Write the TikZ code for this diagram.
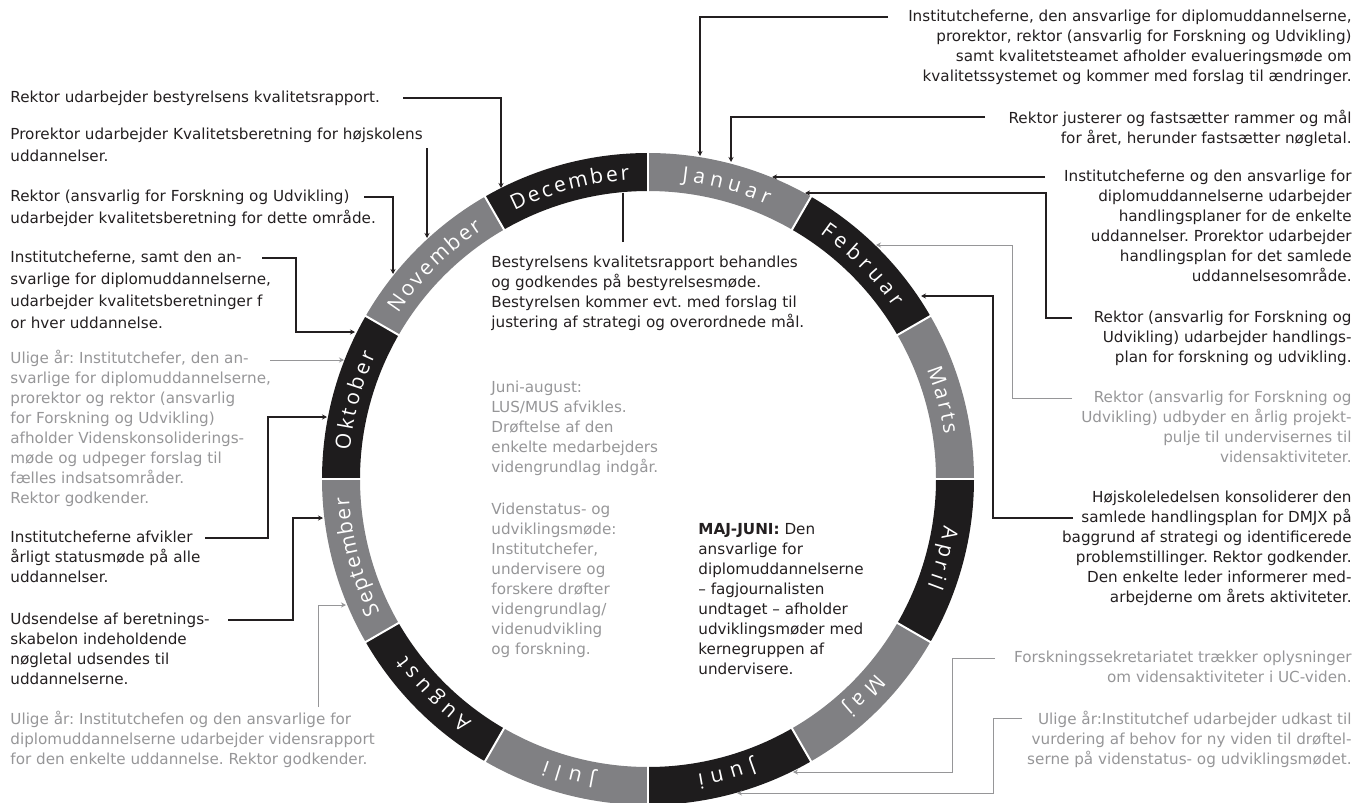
\documentclass[tikz,border=0pt]{standalone}
\usepackage{fontspec}
\setmainfont{DejaVu Sans}
\newfontfamily\monthfont{Open Sans}
\usetikzlibrary{arrows.meta,decorations.text,positioning,calc}
\definecolor{ringgray}{RGB}{128,128,131}
\definecolor{ringblack}{RGB}{30,28,29}
\definecolor{inkblack}{RGB}{35,31,32}
\definecolor{inkgray}{RGB}{150,150,152}
\newcommand\mfont{\monthfont\fontsize{10.5}{11}\selectfont}
\frenchspacing
\tikzset{
note/.style = {inner sep=0pt, align=left, anchor=north west, text=inkblack, font=\fontsize{7.6}{10}\selectfont},
notewide/.style = {note, font=\fontsize{7.6}{11}\selectfont},
notegray/.style = {note, text=inkgray},
noteright/.style = {note, align=right, anchor=north east},
noterightgray/.style = {noteright, text=inkgray},
tmp/.style = {coordinate},
link/.style = {draw=inkblack, line width=0.7pt, -{Stealth[length=2.5pt,width=2.5pt]}},
linkgray/.style = {draw=inkgray, line width=0.5pt, -{Stealth[length=2.5pt,width=2.5pt]}},
plain/.style = {draw=inkblack, line width=0.7pt},
monthlabel/.style = {decorate, decoration={text along path, text/.expanded={|\noexpand\mfont|#1}, text align=fit to path, text color=white}}
}
\begin{document}
\begin{tikzpicture}[x=0.5pt, y=0.5pt]
        \path [use as bounding box] (0,0) rectangle (1371,-803);
        \begin{scope}[shift={(648,-479)}]
        \foreach \m/\s/\c [count=\i from 0] in {Januar/16/ringgray,Februar/19/ringblack,Marts/12/ringgray,April/11/ringblack,Maj/8/ringgray,Juni/10/ringblack,Juli/9/ringgray,August/18/ringblack,September/22/ringgray,Oktober/19/ringblack,November/23/ringgray,December/23/ringblack}{
            \pgfmathsetmacro\aa{90-30*\i}
            \pgfmathsetmacro\ab{\aa-30}
            \fill [\c] (\aa:326) arc [start angle=\aa, end angle=\ab, radius=326] -- (\ab:288) arc [start angle=\ab, end angle=\aa, radius=288] -- cycle;
        }
        \foreach \i in {0,...,11}
            \draw [white, line width=1pt] (30*\i:287) -- (30*\i:327);
        \foreach \m/\s [count=\i from 0] in {Januar/17,Februar/20,Marts/13,April/12,Maj/9,Juni/11,Juli/10,August/18,September/23,Oktober/19,November/23,December/23}{
            \pgfmathsetmacro\ma{75-30*\i+\s/2}
            \pgfmathsetmacro\mb{75-30*\i-\s/2}
            \path [monthlabel=\m] (\ma:299.5) arc [start angle=\ma, end angle=\mb, radius=299.5];
        }
        \end{scope}

        \node [note] (n1) at (10,-91) {Rektor udarbejder bestyrelsens kvalitetsrapport.};
        \node [notewide] (n2) at (10,-128) {Prorektor udarbejder Kvalitetsberetning for højskolens\\uddannelser.};
        \node [notewide] (n3) at (10,-190) {Rektor (ansvarlig for Forskning og Udvikling)\\udarbejder kvalitetsberetning for dette område.};
        \node [notewide] (n4) at (10,-251) {Institutcheferne, samt den an-\\svarlige for diplomuddannelserne,\\udarbejder kvalitetsberetninger f\\or hver uddannelse.};
        \node [notegray] (n5) at (10,-350) {Ulige år: Institutchefer, den an-\\svarlige for diplomuddannelserne,\\prorektor og rektor (ansvarlig\\for Forskning og Udvikling)\\afholder Videnskonsoliderings-\\møde og udpeger forslag til\\fælles indsatsområder.\\Rektor godkender.};
        \node [note] (n6) at (10,-531) {Institutcheferne afvikler\\årligt statusmøde på alle\\uddannelser.};
        \node [note] (n7) at (10,-613) {Udsendelse af beretnings-\\skabelon indeholdende\\nøgletal udsendes til\\uddannelserne.};
        \node [notegray] (n8) at (10,-711) {Ulige år: Institutchefen og den ansvarlige for\\diplomuddannelserne udarbejder vidensrapport\\for den enkelte uddannelse. Rektor godkender.};

        \node [note] (n9) at (491,-256) {Bestyrelsens kvalitetsrapport behandles\\og godkendes på bestyrelsesmøde.\\Bestyrelsen kommer evt. med forslag til\\justering af strategi og overordnede mål.};
        \node [notegray] (n10a) at (491,-381) {Juni-august:\\LUS/MUS afvikles.\\Drøftelse af den\\enkelte medarbejders\\videngrundlag indgår.};
        \node [notegray] (n10b) at (491,-503) {Videnstatus- og\\udviklingsmøde:\\Institutchefer,\\undervisere og\\forskere drøfter\\videngrundlag/\\videnudvikling\\og forskning.};
        \node [note] (n11) at (698,-523) {\textbf{MAJ-JUNI:} Den\\ansvarlige for\\diplomuddannelserne\\– fagjournalisten\\undtaget – afholder\\udviklingsmøder med\\kernegruppen af\\undervisere.};

        \node [noteright] (n12) at (1352,-10) {Institutcheferne, den ansvarlige for diplomuddannelserne,\\prorektor, rektor (ansvarlig for Forskning og Udvikling)\\samt kvalitetsteamet afholder evalueringsmøde om\\kvalitetssystemet og kommer med forslag til ændringer.};
        \node [noteright] (n13) at (1352,-110) {Rektor justerer og fastsætter rammer og mål\\for året, herunder fastsætter nøgletal.};
        \node [noteright] (n14) at (1352,-170) {Institutcheferne og den ansvarlige for\\diplomuddannelserne udarbejder\\handlingsplaner for de enkelte\\uddannelser. Prorektor udarbejder\\handlingsplan for det samlede\\uddannelsesområde.};
        \node [noteright] (n15) at (1352,-311) {Rektor (ansvarlig for Forskning og\\Udvikling) udarbejder handlings-\\plan for forskning og udvikling.};
        \node [noterightgray] (n16) at (1352,-391) {Rektor (ansvarlig for Forskning og\\Udvikling) udbyder en årlig projekt-\\pulje til undervisernes til\\vidensaktiviteter.};
        \node [noteright] (n17) at (1352,-491) {Højskoleledelsen konsoliderer den\\samlede handlingsplan for DMJX på\\baggrund af strategi og identificerede\\problemstillinger. Rektor godkender.\\Den enkelte leder informerer med-\\arbejderne om årets aktiviteter.};
        \node [noterightgray] (n18) at (1352,-651) {Forskningssekretariatet trækker oplysninger\\om vidensaktiviteter i UC-viden.};
        \node [noterightgray] (n19) at (1352,-711) {Ulige år:Institutchef udarbejder udkast til\\vurdering af behov for ny viden til drøftel-\\serne på videnstatus- og udviklingsmødet.};

        \coordinate (c1) at (403,-98);   \coordinate (r1) at (501,-188);
        \coordinate (c2) at (427,-148);  \coordinate (r2) at (427,-238);
        \coordinate (c3) at (364,-197);  \coordinate (r3) at (393,-274);
        \coordinate (c4) at (262,-258);  \coordinate (r4) at (355,-332);
        \coordinate (c5) at (270,-360);  \coordinate (r5) at (344,-360);
        \coordinate (c6) at (205,-538);  \coordinate (r6) at (327,-417);
        \coordinate (c7) at (228,-620);  \coordinate (r7) at (323,-518);
        \coordinate (c8) at (318,-707);  \coordinate (r8) at (346,-605);
        \coordinate (c9) at (623,-242);  \coordinate (r9) at (623,-193);
        \coordinate (c12) at (888,-17);  \coordinate (r12) at (700,-156);
        \coordinate (c13) at (985,-117); \coordinate (r13) at (731,-162);
        \coordinate (c14) at (1045,-177); \coordinate (r14) at (772,-177);
        \coordinate (c15) at (1072,-318); \coordinate (r15) at (805,-193);
        \coordinate (c16) at (1072,-398); \coordinate (r16) at (876,-245);
        \coordinate (c17) at (1073,-518); \coordinate (r17) at (921,-296);
        \coordinate (c18) at (995,-658); \coordinate (r18) at (793,-772);
        \coordinate (c19) at (1022,-718); \coordinate (r19) at (737,-793);

        \draw [link] (c1) -| (r1);
        \draw [link] (c2) -- (r2);
        \draw [link] (c3) -| (r3);
        \draw [link] (c4) -- ++(34,0) |- (r4);
        \draw [linkgray] (c5) -- (r5);
        \draw [link] (c6) -- ++(63,0) |- (r6);
        \draw [link] (c7) -- ++(65,0) |- (r7);
        \draw [linkgray] (c8) |- (r8);
        \draw [plain] (c9) -- (r9);
        \draw [link] (c12) -| (r12);
        \draw [link] (c13) -| (r13);
        \draw [link] (c14) -- (r14);
        \draw [link] (c15) -- ++(-26,0) |- (r15);
        \draw [linkgray] (c16) -- ++(-60,0) |- (r16);
        \draw [link] (c17) -- ++(-80,0) |- (r17);
        \draw [linkgray] (c18) -- ++(-43,0) |- (r18);
        \draw [linkgray] (c19) -- ++(-29,0) |- (r19);
\end{tikzpicture}
\end{document}
